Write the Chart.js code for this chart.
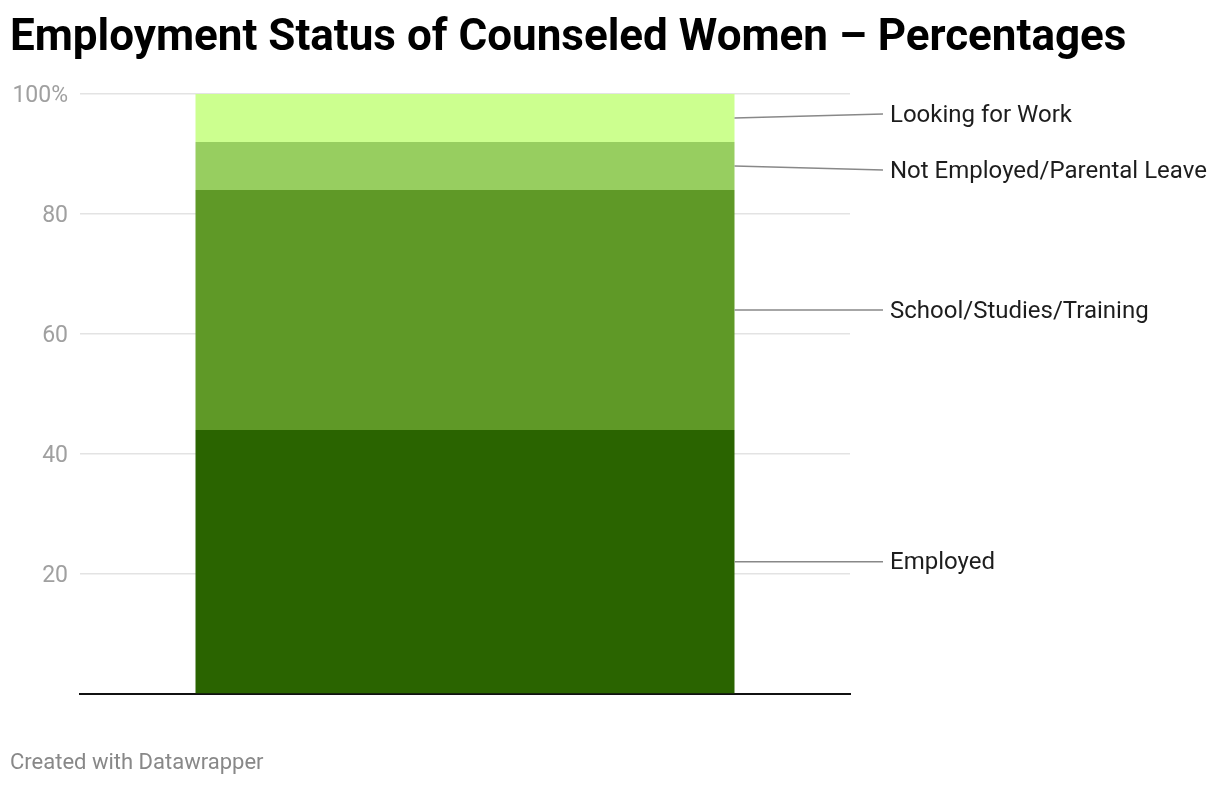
<!DOCTYPE html>
<html>
<head>
<meta charset="utf-8">
<script src="https://cdn.jsdelivr.net/npm/chart.js@4.4.1/dist/chart.umd.min.js"></script>
<style>
  html, body { margin: 0; padding: 0; background: #fff; }
  #wrap { position: relative; width: 1220px; height: 786px; }
</style>
</head>
<body>
<div id="wrap"><canvas id="c" width="1220" height="786"></canvas></div>
<script>
const categories = ["Counseled Women"];
const seriesNames = ["Employed", "School/Studies/Training", "Not Employed/Parental Leave", "Looking for Work"];
const employed = [44];
const school = [40];
const notEmployed = [8];
const looking = [8];
const seriesColors = ["#2a6400", "#5f9927", "#97ce60", "#ccff8f"];
const yTicks = [20, 40, 60, 80, 100];
const titleText = "Employment Status of Counseled Women – Percentages";
const footerText = "Created with Datawrapper";

const FONT = "Roboto, 'Noto Sans', sans-serif";

const textPlugin = {
  id: 'textPlugin',
  afterDraw(chart) {
    const ctx = chart.ctx;
    ctx.save();
    ctx.fillStyle = "#000";
    ctx.font = "bold 44px " + FONT;
    ctx.textBaseline = "alphabetic";
    ctx.textAlign = "left";
    ctx.fillText(titleText, 10, 50);
    ctx.fillStyle = "#888";
    ctx.font = "22px " + FONT;
    ctx.textBaseline = "middle";
    ctx.fillText(footerText, 10, 763);
    ctx.restore();
  }
};

const leaderPlugin = {
  id: 'leaderPlugin',
  afterDatasetsDraw(chart) {
    const ctx = chart.ctx;
    const items = [];
    chart.data.datasets.forEach((ds, i) => {
      const el = chart.getDatasetMeta(i).data[0];
      if (!el) return;
      const mid = (el.y + el.base) / 2;
      items.push({ name: ds.label, mid: mid, y: mid, right: el.x + el.width / 2 });
    });
    items.sort((a, b) => a.mid - b.mid);
    const gap = 56;
    for (let it = 0; it < 50; it++) {
      let moved = false;
      for (let k = 0; k < items.length - 1; k++) {
        const a = items[k], b = items[k + 1];
        const d = b.y - a.y;
        if (d < gap - 0.01) {
          const shift = (gap - d) / 2;
          a.y -= shift; b.y += shift;
          moved = true;
        }
      }
      if (!moved) break;
    }
    ctx.save();
    ctx.strokeStyle = "#888";
    ctx.lineWidth = 1.5;
    ctx.fillStyle = "#1d1d1d";
    ctx.font = "24px " + FONT;
    ctx.textBaseline = "middle";
    ctx.textAlign = "left";
    items.forEach(o => {
      ctx.beginPath();
      ctx.moveTo(o.right, o.mid);
      ctx.lineTo(883, o.y);
      ctx.stroke();
      ctx.fillText(o.name, 890, o.y + 1.5);
    });
    ctx.restore();
  }
};

const datasets = [employed, school, notEmployed, looking].map((vals, i) => ({
  label: seriesNames[i],
  data: vals,
  backgroundColor: seriesColors[i],
  borderWidth: 0,
  barPercentage: 0.7,
  categoryPercentage: 1.0
}));

new Chart(document.getElementById('c'), {
  type: 'bar',
  data: { labels: categories, datasets: datasets },
  options: {
    responsive: false,
    animation: false,
    devicePixelRatio: 1,
    layout: { padding: { top: 94, right: 370, bottom: 0, left: 0 } },
    plugins: {
      legend: { display: false },
      tooltip: { enabled: false },
      title: { display: false }
    },
    scales: {
      x: {
        stacked: true,
        ticks: { display: false },
        grid: { display: false, drawTicks: false },
        border: { display: true, color: "#111", width: 2 },
        afterFit(scale) { scale.height = 92; }
      },
      y: {
        stacked: true,
        min: 0,
        max: 100,
        afterBuildTicks(scale) { scale.ticks = [0].concat(yTicks).map(v => ({ value: v })); },
        ticks: {
          color: "#a0a0a0",
          font: { family: FONT, size: 23 },
          padding: 12,
          labelOffset: 2,
          callback: (v) => v === 0 ? "" : (v === 100 ? v + "%" : String(v))
        },
        grid: {
          color: (c) => c.tick && c.tick.value === 0 ? "rgba(0,0,0,0)" : "#e3e3e3",
          lineWidth: 1.5,
          drawTicks: false
        },
        border: { display: false },
        afterFit(scale) { scale.width = 80; }
      }
    }
  },
  plugins: [textPlugin, leaderPlugin]
});
</script>
</body>
</html>
